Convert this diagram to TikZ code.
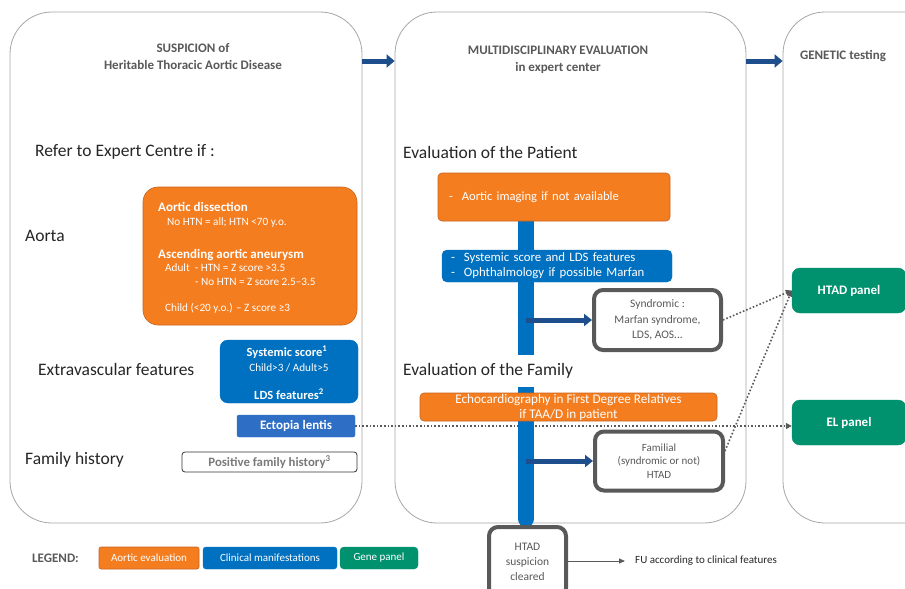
\documentclass[tikz,border=0pt]{standalone}
\usepackage{fontspec}
\setmainfont{Carlito}
\usetikzlibrary{arrows.meta,backgrounds}

\definecolor{aortaorange}{HTML}{F47D20}
\definecolor{aortaedge}{HTML}{C8641E}
\definecolor{clinblue}{HTML}{0070C0}
\definecolor{lensblue}{HTML}{2F6EC5}
\definecolor{genegreen}{HTML}{00916E}
\definecolor{flowblue}{HTML}{1F4E8C}
\definecolor{panelgray}{HTML}{A6A6A6}
\definecolor{textgray}{HTML}{595959}

\tikzset{   panel/.style={draw=panelgray,fill=white,rounded corners=42pt,line width=0.8pt,inner sep=0pt},
            orangebox/.style={draw=aortaedge,fill=aortaorange,text=white,rounded corners=4pt,line width=0.6pt},
            bluebox/.style={draw=clinblue,fill=clinblue,text=white,rounded corners=5pt},
            greenbox/.style={draw=genegreen,fill=genegreen,text=white,rounded corners=8pt},
            outcome/.style={draw=textgray,fill=white,text=textgray,rounded corners=9pt,line width=4pt,align=center,
                            font=\fontsize{11.5}{15.5}\selectfont},
            heading/.style={text=textgray,align=center,font=\bfseries\fontsize{13}{17}\selectfont},
            rowlabel/.style={anchor=west,inner sep=0pt,text=black!85,font=\fontsize{17.5}{20}\selectfont},
            boxtext/.style={anchor=west,inner sep=0pt,text=white},
            stagearrow/.style={draw=flowblue,line width=5pt,-{Triangle[length=8pt,width=13pt]}},
            branch/.style={draw=flowblue,line width=5pt,-{Triangle[length=8pt,width=12pt]}},
            trunk/.style={draw=clinblue,line width=16pt,line cap=round},
            panellink/.style={draw=textgray,line width=1.6pt,dotted,-{Triangle[length=6pt,width=6pt]}},
}

\begin{document}
\begin{tikzpicture}[x=1pt,y=-1pt]
    \useasboundingbox (0,0) rectangle (905,589);

    \begin{scope}[on background layer]   % three stages
        \node[panel,minimum width=352pt,minimum height=511pt] (susp) at (186,267.5) {};
        \node[panel,minimum width=351pt,minimum height=511pt] (multi) at (570.5,267.5) {};
        \node[panel,minimum width=177pt,minimum height=511pt] (genetic) at (871.5,267.5) {};
    \end{scope}

    \node[heading] (susptitle) at (193,57) {SUSPICION of\\Heritable Thoracic Aortic Disease};
    \node[heading] (multititle) at (558,60) {MULTIDISCIPLINARY EVALUATION\\in expert center};
    \node[heading] (genetitle) at (843,56) {GENETIC testing};

    \draw[stagearrow] (susp.east |- 0,61) -- (multi.west |- 0,61);
    \draw[stagearrow] (multi.east |- 0,61) -- (genetic.west |- 0,61);

    % left stage
    \node[rowlabel] (refer) at (35,152) {Refer to Expert Centre if :};
    \node[rowlabel] (aorta) at (25,236) {Aorta};
    \node[rowlabel] (extra) at (38,369) {Extravascular features};
    \node[rowlabel] (famhist) at (25,460) {Family history};

    \node[orangebox,rounded corners=15pt,minimum width=214pt,minimum height=138pt] (aorticbox) at (250,256) {};
    \node[boxtext,font=\bfseries\fontsize{13}{15}\selectfont] at (158,207) {Aortic dissection};
    \node[boxtext,font=\fontsize{11.2}{13}\selectfont] at (167,223) {No HTN = all; HTN <70 y.o.};
    \node[boxtext,font=\bfseries\fontsize{13}{15}\selectfont] at (158,255) {Ascending aortic aneurysm};
    \node[boxtext,font=\fontsize{11.2}{13}\selectfont] at (165,268) {Adult\ \ - HTN = Z score >3.5};
    \node[boxtext,font=\fontsize{11.2}{13}\selectfont] at (195,282) {- No HTN = Z score 2.5–3.5};
    \node[boxtext,font=\fontsize{11.2}{13}\selectfont] at (165,308) {Child (<20 y.o.) – Z score ≥3};

    \node[bluebox,rounded corners=8pt,minimum width=138pt,minimum height=63pt] (systemic) at (289,371.5) {};
    \node[text=white,font=\bfseries\fontsize{12.5}{14}\selectfont] at (287,352) {Systemic score\textsuperscript{1}};
    \node[text=white,font=\fontsize{11.2}{13}\selectfont] at (289,368) {Child>3 / Adult>5};
    \node[text=white,font=\bfseries\fontsize{12.5}{14}\selectfont] at (289,394) {LDS features\textsuperscript{2}};

    \node[draw=lensblue,fill=lensblue,text=white,rounded corners=2pt,minimum width=118pt,minimum height=22pt,
          inner sep=0pt,font=\bfseries\fontsize{13}{15}\selectfont] (ectopia) at (296,426) {Ectopia lentis};
    \node[draw=black!80,fill=white,text=textgray!80,rounded corners=3pt,line width=0.8pt,minimum width=175pt,
          minimum height=20pt,inner sep=0pt,font=\bfseries\fontsize{12.8}{14}\selectfont] (positive) at (269.5,462)
          {Positive family history\textsuperscript{3}};

    % middle stage
    \node[rowlabel] (patient) at (403,152) {Evaluation of the Patient};
    \node[rowlabel,fill=white,inner xsep=2pt,inner ysep=9pt] (family) at (401,371) {Evaluation of the Family};

    \node[orangebox,minimum width=232pt,minimum height=48pt,text width=210pt,inner xsep=11pt,align=left,
          font=\fontsize{12.6}{15}\selectfont] (imaging) at (554,197) {-\hspace{9pt}Aortic imaging if not available};
    \node[bluebox,minimum width=230pt,minimum height=32pt,text width=212pt,inner xsep=9pt,inner ysep=1pt,align=left,
          font=\fontsize{12.8}{15}\selectfont] (ophthal) at (557,266)
          {-\hspace{9pt}Systemic score and LDS features\\-\hspace{9pt}Ophthalmology if possible Marfan};
    \node[orangebox,minimum width=297pt,minimum height=28pt,inner sep=0pt,align=center,
          font=\fontsize{13.2}{15}\selectfont] (echo) at (568.5,407)
          {Echocardiography in First Degree Relatives\\if TAA/D in patient};

    \node[outcome,minimum width=127pt,minimum height=60pt] (syndromic) at (657.5,320)
          {Syndromic :\\Marfan syndrome,\\LDS, AOS...};
    \node[outcome,minimum width=128pt,minimum height=59pt,font=\fontsize{11}{13.5}\selectfont] (familial) at (659,461)
          {Familial\\(syndromic or not)\\HTAD};
    \node[outcome,minimum width=77pt,minimum height=70pt,font=\fontsize{11.5}{15}\selectfont] (cleared) at (527.5,562)
          {HTAD\\suspicion\\cleared};
    \node[anchor=west,inner xsep=10pt,inner ysep=0pt,text=black!85,font=\fontsize{11}{13}\selectfont] (fu)
          at (625,561) {FU according to clinical features};

    \coordinate (trunktop) at (526,212);
    \coordinate (trunkend) at (526,519);

    \draw[branch] (trunktop |- syndromic.west) -- (syndromic.west);
    \draw[branch] (trunktop |- familial.west) -- (familial.west);
    \draw[textgray,line width=0.8pt,-{Triangle[length=6pt,width=5pt]}] (cleared.east |- fu.west) -- (fu.west);

    % right stage
    \node[greenbox,minimum width=114pt,minimum height=45pt,font=\bfseries\fontsize{13}{15}\selectfont] (htad)
          at (849,290.5) {HTAD panel};
    \node[greenbox,minimum width=114pt,minimum height=45pt,font=\bfseries\fontsize{13}{15}\selectfont] (elpanel)
          at (849,422.5) {EL panel};

    \draw[panellink] (syndromic.east) -- (htad.west);
    \draw[panellink] ([yshift=10pt]familial.east) -- (htad.west);

    \begin{scope}[on background layer]   % links behind the trunk
        \draw[panellink] (ectopia.east) -- (ectopia.east -| elpanel.west);
        \draw[trunk] (trunktop) -- (trunkend);
    \end{scope}

    % legend
    \node[anchor=west,inner sep=0pt,text=textgray,font=\bfseries\fontsize{13}{15}\selectfont] (legend) at (32,558) {LEGEND:};
    \node[orangebox,rounded corners=2pt,minimum width=100pt,minimum height=22pt,inner sep=0pt,
          font=\fontsize{11}{13}\selectfont] (legorange) at (149,558) {Aortic evaluation};
    \node[bluebox,rounded corners=3pt,minimum width=134pt,minimum height=22pt,inner sep=0pt,
          font=\fontsize{11}{13}\selectfont] (legblue) at (270,558) {Clinical manifestations};
    \node[greenbox,rounded corners=4pt,minimum width=78pt,minimum height=22pt,inner sep=0pt,
          font=\fontsize{11}{13}\selectfont] (leggreen) at (379,558) {Gene panel};
\end{tikzpicture}
\end{document}
